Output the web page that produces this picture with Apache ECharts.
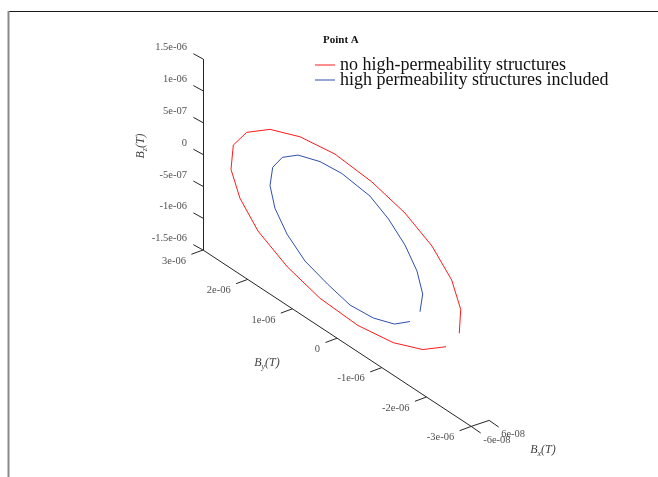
<!DOCTYPE html>
<html>
<head>
<meta charset="utf-8">
<script src="https://cdn.jsdelivr.net/npm/echarts@6/dist/echarts.min.js"></script>
<style>
html, body { margin: 0; padding: 0; background: #fff; }
#main { width: 658px; height: 477px; }
</style>
</head>
<body>
<div id="main"></div>
<script>
// field trace at Point A (tesla); Bx cannot be read off the view, kept at 0
var redName = 'no high-permeability structures';
var redBx = [0, 0, 0, 0, 0, 0, 0, 0, 0, 0, 0, 0, 0, 0, 0, 0, 0, 0, 0, 0];
var redBy = [-2.532e-6, -2.564e-6, -2.362e-6, -1.922e-6, -1.318e-6, -0.573e-6, 0.248e-6, 1.031e-6, 1.702e-6, 2.224e-6,
             2.523e-6, 2.575e-6, 2.374e-6, 1.971e-6, 1.311e-6, 0.584e-6, -0.266e-6, -1.056e-6, -1.714e-6, -2.235e-6];
var redBz = [-0.301e-6, 0.090e-6, 0.457e-6, 0.787e-6, 1.027e-6, 1.174e-6, 1.230e-6, 1.140e-6, 0.947e-6, 0.659e-6,
             0.321e-6, -0.084e-6, -0.446e-6, -0.774e-6, -1.034e-6, -1.190e-6, -1.225e-6, -1.130e-6, -0.934e-6, -0.649e-6];

var blueName = 'high permeability structures included';
var blueBx = [0, 0, 0, 0, 0, 0, 0, 0, 0, 0, 0, 0, 0, 0, 0, 0, 0, 0, 0, 0];
var blueBy = [-1.653e-6, -1.714e-6, -1.586e-6, -1.318e-6, -0.949e-6, -0.535e-6, 0.098e-6, 0.584e-6, 1.076e-6, 1.427e-6,
              1.642e-6, 1.702e-6, 1.591e-6, 1.322e-6, 0.919e-6, 0.416e-6, -0.087e-6, -0.609e-6, -1.083e-6, -1.430e-6];
var blueBz = [-0.368e-6, -0.062e-6, 0.240e-6, 0.524e-6, 0.762e-6, 0.932e-6, 0.996e-6, 0.957e-6, 0.832e-6, 0.634e-6,
              0.378e-6, 0.064e-6, -0.242e-6, -0.522e-6, -0.760e-6, -0.888e-6, -0.986e-6, -0.949e-6, -0.825e-6, -0.625e-6];

var xTicks = [-6e-8, 6e-8];
var xTickLabels = ['-6e-08', '6e-08'];
var yTicks = [-3e-6, -2e-6, -1e-6, 0, 1e-6, 2e-6, 3e-6];
var yTickLabels = ['-3e-06', '-2e-06', '-1e-06', '0', '1e-06', '2e-06', '3e-06'];
var zTicks = [-1.5e-6, -1e-6, -5e-7, 0, 5e-7, 1e-6, 1.5e-6];
var zTickLabels = ['-1.5e-06', '-1e-06', '-5e-07', '0', '5e-07', '1e-06', '1.5e-06'];

var xLim = [-6e-8, 6e-8];
var yLim = [-3e-6, 3e-6];
var zLim = [-1.5e-6, 1.5e-6];

// view: pixel of the corner (xmin, ymax, zmin) and pixel step per tesla
var corner = [203, 250];
var vx = [1.5e8, -5e7];
var vy = [-4.47e7, -2.94e7];
var vz = [0, -6.367e7];

function project(bx, by, bz) {
    var dx = bx - xLim[0], dy = by - yLim[1], dz = bz - zLim[0];
    return [corner[0] + dx * vx[0] + dy * vy[0] + dz * vz[0],
            corner[1] + dx * vx[1] + dy * vy[1] + dz * vz[1]];
}

function curve(bx, by, bz) {
    var pts = [];
    for (var i = 0; i < by.length; i++) {
        pts.push(project(bx[i], by[i], bz[i]));
    }
    return pts;
}

function shift(p, d) {
    return [p[0] + d[0], p[1] + d[1]];
}

var segs = [];
var zLabels = [], yLabels = [], xLabels = [];
segs.push({coords: [project(xLim[0], yLim[1], zLim[0]), project(xLim[0], yLim[1], zLim[1])]});
segs.push({coords: [project(xLim[0], yLim[1], zLim[0]), project(xLim[0], yLim[0], zLim[0])]});
segs.push({coords: [project(xLim[0], yLim[0], zLim[0]), project(xLim[1], yLim[0], zLim[0])]});

for (var i = 0; i < zTicks.length; i++) {
    var p = project(xLim[0], yLim[1], zTicks[i]);
    segs.push({coords: [p, shift(p, [-9.6, -5.3])]});
    zLabels.push({value: shift(p, [-16, -11.5]), name: zTickLabels[i]});
}
for (var i = 0; i < yTicks.length; i++) {
    var p = project(xLim[0], yTicks[i], zLim[0]);
    segs.push({coords: [p, shift(p, [-11.6, 4.3])]});
    yLabels.push({value: shift(p, [-17, 11]), name: yTickLabels[i]});
}
for (var i = 0; i < xTicks.length; i++) {
    var p = project(xTicks[i], yLim[0], zLim[0]);
    segs.push({coords: [p, shift(p, [9.5, 6.6])]});
    xLabels.push({value: shift(p, [12, 14]), name: xTickLabels[i]});
}

var serif = 'Liberation Serif, Times New Roman, serif';

function labelSeries(data, align) {
    return {
        type: 'scatter',
        silent: true,
        symbolSize: 1,
        itemStyle: {color: 'rgba(0,0,0,0)'},
        data: data,
        label: {
            show: true,
            position: 'inside',
            formatter: '{b}',
            align: align,
            verticalAlign: 'middle',
            fontFamily: serif,
            fontSize: 10.5,
            color: '#222'
        }
    };
}

function axisTitle(sub, x, y, rot) {
    return {
        type: 'text',
        x: x,
        y: y,
        rotation: rot,
        silent: true,
        style: {
            text: '{b|B}{s|' + sub + '}{b|(T)}',
            align: 'center',
            verticalAlign: 'middle',
            rich: {
                b: {fontFamily: serif, fontStyle: 'italic', fontSize: 12, lineHeight: 16, fill: '#444'},
                s: {fontFamily: serif, fontStyle: 'italic', fontSize: 8, lineHeight: 7, verticalAlign: 'bottom', fill: '#444'}
            }
        }
    };
}

var myChart = echarts.init(document.getElementById('main'));
myChart.setOption({
    animation: false,
    backgroundColor: '#fff',
    title: {
        text: 'Point A',
        left: 323,
        top: 34.5,
        padding: 0,
        textStyle: {fontFamily: serif, fontWeight: 'bold', fontSize: 11, color: '#111'}
    },
    legend: {
        data: [redName, blueName],
        orient: 'vertical',
        left: 315,
        top: 56,
        padding: 0,
        icon: 'rect',
        itemWidth: 20,
        itemHeight: 1,
        itemGap: -3,
        selectedMode: false,
        textStyle: {fontFamily: serif, fontSize: 18, color: '#111'}
    },
    grid: {left: 0, right: 0, top: 0, bottom: 0},
    xAxis: {type: 'value', min: 0, max: 658, show: false},
    yAxis: {type: 'value', min: 0, max: 477, inverse: true, show: false},
    graphic: [
        {type: 'line', silent: true, shape: {x1: 8, y1: 11.5, x2: 658, y2: 11.5}, style: {stroke: '#1a1a1a', lineWidth: 1}},
        {type: 'line', silent: true, shape: {x1: 8.5, y1: 11, x2: 8.5, y2: 477}, style: {stroke: '#8a8a8a', lineWidth: 2}},
        axisTitle('z', 141, 146, Math.PI / 2),
        axisTitle('y', 267, 363, 0),
        axisTitle('x', 543, 450, 0)
    ],
    series: [
        {
            type: 'lines',
            coordinateSystem: 'cartesian2d',
            silent: true,
            data: segs,
            lineStyle: {color: '#262626', width: 1, opacity: 1}
        },
        labelSeries(zLabels, 'right'),
        labelSeries(yLabels, 'right'),
        labelSeries(xLabels, 'left'),
        {
            name: redName,
            type: 'line',
            symbol: 'none',
            data: curve(redBx, redBy, redBz),
            lineStyle: {color: '#ff1a1a', width: 1},
            itemStyle: {color: '#ff1a1a'}
        },
        {
            name: blueName,
            type: 'line',
            symbol: 'none',
            data: curve(blueBx, blueBy, blueBz),
            lineStyle: {color: '#2f4fb0', width: 1},
            itemStyle: {color: '#2f4fb0'}
        }
    ]
});
</script>
</body>
</html>
